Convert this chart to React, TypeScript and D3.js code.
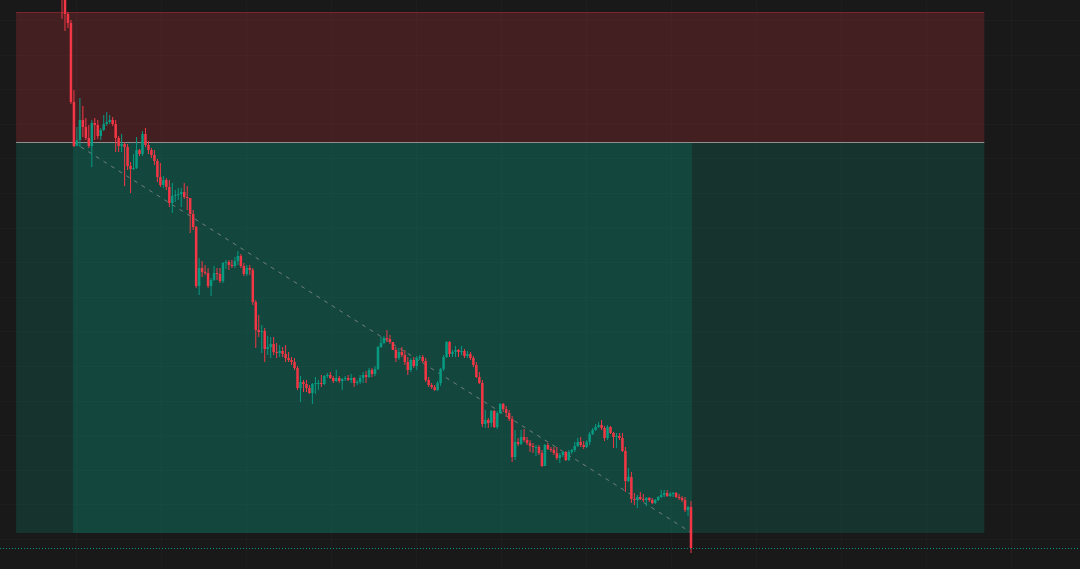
import { useEffect, useRef } from "react";
import * as d3 from "d3";

const width = 1080;
const height = 569;

// first bar's open, every later bar opens at the previous close
const firstOpen = 1060;

const closes = [
  1005, 986, 977, 898, 854, 860, 880, 873, 862, 854,
  877, 875, 864, 870, 876, 878, 880, 876, 862, 854,
  856, 853, 834, 831, 832, 850, 846, 866, 855, 850,
  845, 839, 823, 815, 820, 813, 797, 804, 805, 806,
  808, 803, 802, 786, 773, 714, 732, 728, 727, 714,
  720, 727, 726, 719, 737, 738, 735, 734, 739, 744,
  734, 726, 732, 730, 698, 670, 668, 669, 651, 653,
  656, 648, 647, 649, 646, 642, 640, 638, 632, 612,
  618, 616, 612, 607, 616, 617, 617, 616, 624, 625,
  622, 619, 622, 619, 621, 622, 620, 622, 617, 618,
  622, 625, 623, 630, 626, 631, 653, 657, 662, 661,
  658, 650, 642, 648, 645, 638, 630, 640, 634, 642,
  643, 639, 620, 615, 613, 610, 617, 631, 643, 658,
  646, 648, 650, 648, 649, 644, 646, 642, 635, 623,
  617, 576, 580, 577, 589, 573, 587, 596, 591, 587,
  581, 543, 558, 556, 563, 560, 557, 554, 553, 553,
  547, 534, 555, 551, 550, 547, 542, 545, 548, 540,
  548, 550, 554, 558, 555, 553, 558, 566, 570, 573,
  575, 572, 562, 573, 567, 563, 564, 562, 549, 519,
  523, 501, 500, 503, 501, 500, 502, 500, 497, 500,
  503, 505, 507, 504, 506, 507, 503, 502, 500, 490,
  493, 452,
];

const highs = [
  1070, 1008, 988, 980, 910, 873, 902, 894, 882, 875,
  880, 882, 880, 872, 885, 888, 885, 883, 880, 864,
  866, 858, 856, 838, 846, 863, 851, 869, 872, 859,
  852, 850, 841, 837, 824, 822, 820, 817, 810, 812,
  812, 817, 814, 802, 790, 774, 742, 739, 735, 732,
  722, 734, 732, 732, 738, 740, 740, 740, 743, 749,
  746, 737, 735, 735, 732, 700, 685, 675, 672, 664,
  663, 663, 657, 655, 653, 655, 648, 643, 642, 634,
  624, 620, 620, 615, 617, 623, 620, 625, 625, 627,
  628, 624, 630, 624, 622, 624, 625, 626, 623, 620,
  625, 628, 629, 632, 632, 634, 654, 663, 664, 670,
  665, 658, 653, 652, 653, 650, 643, 642, 643, 644,
  645, 645, 642, 623, 617, 615, 619, 632, 645, 659,
  659, 650, 654, 651, 654, 651, 649, 648, 644, 638,
  628, 620, 590, 582, 590, 590, 589, 597, 597, 594,
  590, 584, 570, 562, 570, 571, 563, 560, 557, 555,
  555, 550, 556, 557, 553, 553, 553, 547, 549, 549,
  550, 551, 558, 562, 563, 559, 560, 568, 572, 576,
  578, 580, 574, 575, 574, 568, 567, 567, 567, 553,
  532, 528, 507, 505, 508, 506, 503, 503, 502, 501,
  504, 510, 510, 510, 508, 508, 508, 506, 504, 503,
  494, 499,
];

const lows = [
  981, 969, 972, 896, 853, 854, 853, 863, 860, 852,
  833, 860, 861, 860, 869, 874, 876, 874, 848, 848,
  848, 814, 830, 807, 830, 831, 844, 844, 853, 846,
  842, 835, 818, 813, 812, 810, 793, 787, 798, 800,
  793, 801, 790, 767, 770, 712, 705, 723, 725, 712,
  704, 719, 720, 717, 717, 731, 730, 732, 732, 735,
  732, 724, 724, 725, 695, 652, 663, 647, 638, 645,
  642, 645, 642, 643, 643, 638, 638, 635, 630, 610,
  598, 608, 608, 606, 596, 606, 610, 613, 615, 622,
  621, 617, 618, 617, 610, 619, 619, 617, 613, 615,
  616, 617, 617, 622, 623, 624, 630, 652, 656, 658,
  656, 650, 638, 640, 643, 635, 625, 628, 632, 630,
  640, 637, 618, 613, 611, 609, 609, 614, 629, 642,
  643, 643, 643, 643, 645, 642, 642, 640, 633, 622,
  616, 573, 572, 572, 573, 572, 571, 586, 588, 583,
  579, 538, 540, 554, 555, 558, 555, 548, 547, 544,
  545, 533, 534, 550, 548, 545, 540, 537, 543, 539,
  539, 546, 548, 553, 553, 551, 552, 555, 565, 569,
  572, 570, 559, 560, 566, 552, 552, 560, 548, 508,
  518, 497, 495, 492, 500, 498, 494, 498, 496, 496,
  499, 502, 503, 503, 503, 503, 502, 500, 498, 488,
  484, 447,
];

// short position tool
const entryPrice = 858;
const stopPrice = 988;
const targetPrice = 467;
const toolStartBar = -15.4;
const entryBar = 3.7;
const exitBar = 211.3;
const toolEndBar = 309.4;

const bg = "#191919";
const upColor = "#089981";
const downColor = "#f23645";

export default function App() {
  const ref = useRef<SVGSVGElement | null>(null);

  useEffect(() => {
    if (!ref.current) return;
    document.body.style.margin = "0";
    document.body.style.background = bg;

    const svg = d3.select(ref.current);
    svg.selectAll("*").remove();

    const x = d3.scaleLinear([0, closes.length - 1], [62, 691]);
    const y = d3.scaleLinear([targetPrice, stopPrice], [533, 12]);

    const bars = closes.map((c, i) => ({
      i,
      o: i === 0 ? firstOpen : closes[i - 1],
      c,
      h: highs[i],
      l: lows[i],
    }));

    svg.append("rect").attr("width", width).attr("height", height).attr("fill", bg);

    // grid
    const grid = svg.append("g").attr("stroke", "rgba(255,255,255,0.018)");
    grid
      .selectAll("line.v")
      .data(d3.range(4.7, 360, 28.5))
      .enter()
      .append("line")
      .attr("x1", (d) => Math.round(x(d)) + 0.5)
      .attr("x2", (d) => Math.round(x(d)) + 0.5)
      .attr("y1", 0)
      .attr("y2", height);
    grid
      .selectAll("line.h")
      .data(d3.range(980, 400, -34.6))
      .enter()
      .append("line")
      .attr("y1", (d) => Math.round(y(d)) + 0.5)
      .attr("y2", (d) => Math.round(y(d)) + 0.5)
      .attr("x1", 0)
      .attr("x2", width);

    const x0 = x(toolStartBar);
    const x1 = x(toolEndBar);

    // stop zone
    svg
      .append("rect")
      .attr("x", x0)
      .attr("y", y(stopPrice))
      .attr("width", x1 - x0)
      .attr("height", y(entryPrice) - y(stopPrice))
      .attr("fill", downColor)
      .attr("fill-opacity", 0.2);
    svg
      .append("line")
      .attr("x1", x0)
      .attr("x2", x1)
      .attr("y1", y(stopPrice) + 0.5)
      .attr("y2", y(stopPrice) + 0.5)
      .attr("stroke", downColor)
      .attr("stroke-opacity", 0.3);

    // target zone
    svg
      .append("rect")
      .attr("x", x0)
      .attr("y", y(entryPrice))
      .attr("width", x1 - x0)
      .attr("height", y(targetPrice) - y(entryPrice))
      .attr("fill", upColor)
      .attr("fill-opacity", 0.2);

    // filled part while the trade was open
    svg
      .append("rect")
      .attr("x", x(entryBar))
      .attr("y", y(entryPrice))
      .attr("width", x(exitBar) - x(entryBar))
      .attr("height", y(targetPrice) - y(entryPrice))
      .attr("fill", upColor)
      .attr("fill-opacity", 0.2);

    // entry line
    svg
      .append("line")
      .attr("x1", x0)
      .attr("x2", x1)
      .attr("y1", Math.round(y(entryPrice)) + 0.5)
      .attr("y2", Math.round(y(entryPrice)) + 0.5)
      .attr("stroke", "#8f8f8f");

    // trade path
    svg
      .append("line")
      .attr("x1", x(entryBar))
      .attr("y1", y(entryPrice))
      .attr("x2", x(exitBar))
      .attr("y2", y(targetPrice))
      .attr("stroke", "#8a8a8a")
      .attr("stroke-opacity", 0.8)
      .attr("stroke-dasharray", "4 5");

    // candles
    const candles = svg
      .append("g")
      .selectAll("g")
      .data(bars)
      .enter()
      .append("g")
      .attr("fill", (d) => (d.c < d.o ? downColor : upColor));

    candles
      .append("rect")
      .attr("x", (d) => x(d.i) - 0.5)
      .attr("width", 1)
      .attr("y", (d) => y(Math.max(d.h, d.o, d.c)))
      .attr("height", (d) => y(Math.min(d.l, d.o, d.c)) - y(Math.max(d.h, d.o, d.c)));

    candles
      .append("rect")
      .attr("x", (d) => x(d.i) - 1.25)
      .attr("width", 2.5)
      .attr("y", (d) => y(Math.max(d.o, d.c)))
      .attr("height", (d) => Math.max(1, Math.abs(y(d.o) - y(d.c))));

    // last price line
    const last = closes[closes.length - 1];
    svg
      .append("line")
      .attr("x1", 0)
      .attr("x2", width)
      .attr("y1", Math.round(y(last)) + 0.5)
      .attr("y2", Math.round(y(last)) + 0.5)
      .attr("stroke", upColor)
      .attr("stroke-dasharray", "1 2");
  }, []);

  return <svg ref={ref} width={width} height={height} style={{ display: "block" }} />;
}
